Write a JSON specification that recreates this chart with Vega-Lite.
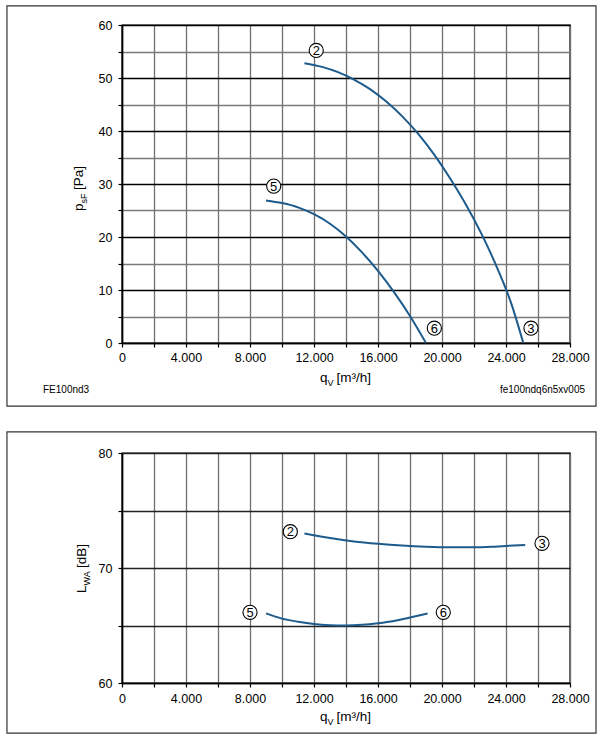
{
  "$schema": "https://vega.github.io/schema/vega-lite/v6.json",
  "padding": {"left": 5, "top": 4, "right": 0, "bottom": 0},
  "spacing": 22,
  "config": {
    "font": "Liberation Sans",
    "view": {"stroke": "#000", "strokeWidth": 1.4},
    "axis": {
      "labelFont": "Liberation Sans",
      "labelFontSize": 12.5,
      "labelColor": "#000",
      "tickColor": "#000",
      "tickSize": 4,
      "tickWidth": 1.2,
      "domainColor": "#000",
      "domainWidth": 1.6,
      "labelOverlap": false,
      "labelFlush": false,
      "tickCount": 40,
      "title": null
    },
    "text": {"font": "Liberation Sans", "color": "#000"}
  },
  "datasets": {
    "pressure": [
      {"curve": "2-3", "q": 11400, "p": 52.8},
      {"curve": "2-3", "q": 12500, "p": 52.1},
      {"curve": "2-3", "q": 13500, "p": 51.1},
      {"curve": "2-3", "q": 14500, "p": 49.7},
      {"curve": "2-3", "q": 15500, "p": 47.9},
      {"curve": "2-3", "q": 16500, "p": 45.6},
      {"curve": "2-3", "q": 17500, "p": 42.8},
      {"curve": "2-3", "q": 18500, "p": 39.5},
      {"curve": "2-3", "q": 19500, "p": 35.6},
      {"curve": "2-3", "q": 20500, "p": 31.1},
      {"curve": "2-3", "q": 21500, "p": 26.1},
      {"curve": "2-3", "q": 22500, "p": 20.4},
      {"curve": "2-3", "q": 23500, "p": 13.8},
      {"curve": "2-3", "q": 24300, "p": 7.7},
      {"curve": "2-3", "q": 25080, "p": 0},
      {"curve": "5-6", "q": 9000, "p": 26.9},
      {"curve": "5-6", "q": 10000, "p": 26.4},
      {"curve": "5-6", "q": 11000, "p": 25.6},
      {"curve": "5-6", "q": 12000, "p": 24.3},
      {"curve": "5-6", "q": 13000, "p": 22.5},
      {"curve": "5-6", "q": 14000, "p": 20.1},
      {"curve": "5-6", "q": 15000, "p": 17.1},
      {"curve": "5-6", "q": 16000, "p": 13.6},
      {"curve": "5-6", "q": 17000, "p": 9.6},
      {"curve": "5-6", "q": 18000, "p": 5.1},
      {"curve": "5-6", "q": 19000, "p": 0}
    ],
    "pressureMarkers": [
      {"label": "2", "q": 12140, "p": 55.2},
      {"label": "3", "q": 25560, "p": 2.8},
      {"label": "5", "q": 9480, "p": 29.6},
      {"label": "6", "q": 19520, "p": 2.8}
    ],
    "noise": [
      {"curve": "2-3", "q": 11400, "lw": 73.0},
      {"curve": "2-3", "q": 13000, "lw": 72.6},
      {"curve": "2-3", "q": 14500, "lw": 72.3},
      {"curve": "2-3", "q": 16000, "lw": 72.1},
      {"curve": "2-3", "q": 17500, "lw": 71.95},
      {"curve": "2-3", "q": 19000, "lw": 71.85},
      {"curve": "2-3", "q": 20500, "lw": 71.8},
      {"curve": "2-3", "q": 22000, "lw": 71.8},
      {"curve": "2-3", "q": 23500, "lw": 71.88},
      {"curve": "2-3", "q": 25200, "lw": 72.0},
      {"curve": "5-6", "q": 9000, "lw": 66.05},
      {"curve": "5-6", "q": 10000, "lw": 65.6},
      {"curve": "5-6", "q": 11000, "lw": 65.33},
      {"curve": "5-6", "q": 12000, "lw": 65.13},
      {"curve": "5-6", "q": 13000, "lw": 65.03},
      {"curve": "5-6", "q": 14000, "lw": 65.0},
      {"curve": "5-6", "q": 15000, "lw": 65.06},
      {"curve": "5-6", "q": 16000, "lw": 65.2},
      {"curve": "5-6", "q": 17000, "lw": 65.4},
      {"curve": "5-6", "q": 18000, "lw": 65.7},
      {"curve": "5-6", "q": 19100, "lw": 66.05}
    ],
    "noiseMarkers": [
      {"label": "2", "q": 10520, "lw": 73.16},
      {"label": "3", "q": 26250, "lw": 72.15},
      {"label": "5", "q": 8000, "lw": 66.15},
      {"label": "6", "q": 20080, "lw": 66.15}
    ],
    "one": [{}]
  },
  "vconcat": [
    {
      "width": 448,
      "height": 318,
      "layer": [
        {
          "data": {"name": "pressure"},
          "mark": {"type": "line", "color": "#1d5b8c", "strokeWidth": 2, "interpolate": "monotone"},
          "encoding": {
            "x": {
              "field": "q", "type": "quantitative",
              "scale": {"domain": [0, 28000], "nice": false, "zero": false},
              "axis": {
                "values": [0, 2000, 4000, 6000, 8000, 10000, 12000, 14000, 16000, 18000, 20000, 22000, 24000, 26000, 28000],
                "labelExpr": "datum.value % 4000 === 0 ? replace(format(datum.value, ','), ',', '.') : ''",
                "grid": true, "gridColor": "#6f6f6f", "gridWidth": 1.3,
                "labelPadding": 4
              }
            },
            "y": {
              "field": "p", "type": "quantitative",
              "scale": {"domain": [0, 60], "nice": false, "zero": false},
              "axis": {
                "values": [0, 5, 10, 15, 20, 25, 30, 35, 40, 45, 50, 55, 60],
                "labelExpr": "datum.value % 10 === 0 ? format(datum.value, 'd') : ''",
                "grid": true,
                "gridColor": {"condition": {"test": "datum.value % 10 === 0", "value": "#000"}, "value": "#7a7a7a"},
                "gridWidth": 1.3,
                "labelPadding": 6
              }
            },
            "detail": {"field": "curve"}
          }
        },
        {
          "data": {"name": "one"},
          "mark": {"type": "rect", "fill": null, "stroke": "#333", "strokeWidth": 1.2},
          "encoding": {
            "x": {"datum": -7190, "type": "quantitative"},
            "x2": {"datum": 29625},
            "y": {"datum": 63.6, "type": "quantitative"},
            "y2": {"datum": -11.9}
          }
        },
        {
          "data": {"name": "pressureMarkers"},
          "mark": {"type": "point", "shape": "circle", "size": 200, "filled": true, "fill": "#fff", "stroke": "#000", "strokeWidth": 1.1, "opacity": 1},
          "encoding": {
            "x": {"field": "q", "type": "quantitative"},
            "y": {"field": "p", "type": "quantitative"}
          }
        },
        {
          "data": {"name": "pressureMarkers"},
          "mark": {"type": "text", "fontSize": 13, "align": "center", "baseline": "middle", "dy": 0.5},
          "encoding": {
            "x": {"field": "q", "type": "quantitative"},
            "y": {"field": "p", "type": "quantitative"},
            "text": {"field": "label"}
          }
        },
        {
          "data": {"name": "one"},
          "mark": {"type": "text", "text": "FE100nd3", "fontSize": 10, "align": "left", "baseline": "alphabetic", "dx": -79, "dy": 50},
          "encoding": {
            "x": {"datum": 0, "type": "quantitative"},
            "y": {"datum": 0, "type": "quantitative"}
          }
        },
        {
          "data": {"name": "one"},
          "mark": {"type": "text", "text": "fe100ndq6n5xv005", "fontSize": 10, "align": "right", "baseline": "alphabetic", "dx": 15, "dy": 50},
          "encoding": {
            "x": {"datum": 28000, "type": "quantitative"},
            "y": {"datum": 0, "type": "quantitative"}
          }
        },
        {
          "data": {"name": "one"},
          "mark": {"type": "text", "text": "q", "fontSize": 13.5, "align": "left", "baseline": "alphabetic", "dx": -26, "dy": 39},
          "encoding": {
            "x": {"datum": 14000, "type": "quantitative"},
            "y": {"datum": 0, "type": "quantitative"}
          }
        },
        {
          "data": {"name": "one"},
          "mark": {"type": "text", "text": "V", "fontSize": 9, "align": "left", "baseline": "alphabetic", "dx": -18.5, "dy": 43},
          "encoding": {
            "x": {"datum": 14000, "type": "quantitative"},
            "y": {"datum": 0, "type": "quantitative"}
          }
        },
        {
          "data": {"name": "one"},
          "mark": {"type": "text", "text": "[m³/h]", "fontSize": 13.5, "align": "left", "baseline": "alphabetic", "dx": -9.5, "dy": 39},
          "encoding": {
            "x": {"datum": 14000, "type": "quantitative"},
            "y": {"datum": 0, "type": "quantitative"}
          }
        },
        {
          "data": {"name": "one"},
          "mark": {"type": "text", "text": "p", "fontSize": 13.5, "angle": 270, "align": "left", "baseline": "alphabetic", "dx": -27, "dy": -39},
          "encoding": {
            "x": {"datum": 0, "type": "quantitative"},
            "y": {"datum": 30, "type": "quantitative"}
          }
        },
        {
          "data": {"name": "one"},
          "mark": {"type": "text", "text": "sF", "fontSize": 9, "angle": 270, "align": "left", "baseline": "alphabetic", "dx": -19.5, "dy": -35.5},
          "encoding": {
            "x": {"datum": 0, "type": "quantitative"},
            "y": {"datum": 30, "type": "quantitative"}
          }
        },
        {
          "data": {"name": "one"},
          "mark": {"type": "text", "text": "[Pa]", "fontSize": 13.5, "angle": 270, "align": "left", "baseline": "alphabetic", "dx": -6, "dy": -39},
          "encoding": {
            "x": {"datum": 0, "type": "quantitative"},
            "y": {"datum": 30, "type": "quantitative"}
          }
        }
      ]
    },
    {
      "width": 448,
      "height": 230,
      "layer": [
        {
          "data": {"name": "noise"},
          "mark": {"type": "line", "color": "#1d5b8c", "strokeWidth": 2, "interpolate": "monotone"},
          "encoding": {
            "x": {
              "field": "q", "type": "quantitative",
              "scale": {"domain": [0, 28000], "nice": false, "zero": false},
              "axis": {
                "values": [0, 2000, 4000, 6000, 8000, 10000, 12000, 14000, 16000, 18000, 20000, 22000, 24000, 26000, 28000],
                "labelExpr": "datum.value % 4000 === 0 ? replace(format(datum.value, ','), ',', '.') : ''",
                "grid": true, "gridColor": "#6f6f6f", "gridWidth": 1.3,
                "labelPadding": 5
              }
            },
            "y": {
              "field": "lw", "type": "quantitative",
              "scale": {"domain": [60, 80], "nice": false, "zero": false},
              "axis": {
                "values": [60, 65, 70, 75, 80],
                "labelExpr": "datum.value % 10 === 0 ? format(datum.value, 'd') : ''",
                "grid": true, "gridColor": "#222", "gridWidth": 1.3,
                "labelPadding": 6
              }
            },
            "detail": {"field": "curve"}
          }
        },
        {
          "data": {"name": "one"},
          "mark": {"type": "rect", "fill": null, "stroke": "#333", "strokeWidth": 1.2},
          "encoding": {
            "x": {"datum": -7190, "type": "quantitative"},
            "x2": {"datum": 29625},
            "y": {"datum": 81.83, "type": "quantitative"},
            "y2": {"datum": 55.65}
          }
        },
        {
          "data": {"name": "noiseMarkers"},
          "mark": {"type": "point", "shape": "circle", "size": 200, "filled": true, "fill": "#fff", "stroke": "#000", "strokeWidth": 1.1, "opacity": 1},
          "encoding": {
            "x": {"field": "q", "type": "quantitative"},
            "y": {"field": "lw", "type": "quantitative"}
          }
        },
        {
          "data": {"name": "noiseMarkers"},
          "mark": {"type": "text", "fontSize": 13, "align": "center", "baseline": "middle", "dy": 0.5},
          "encoding": {
            "x": {"field": "q", "type": "quantitative"},
            "y": {"field": "lw", "type": "quantitative"},
            "text": {"field": "label"}
          }
        },
        {
          "data": {"name": "one"},
          "mark": {"type": "text", "text": "q", "fontSize": 13.5, "align": "left", "baseline": "alphabetic", "dx": -26, "dy": 38},
          "encoding": {
            "x": {"datum": 14000, "type": "quantitative"},
            "y": {"datum": 60, "type": "quantitative"}
          }
        },
        {
          "data": {"name": "one"},
          "mark": {"type": "text", "text": "V", "fontSize": 9, "align": "left", "baseline": "alphabetic", "dx": -18.5, "dy": 42},
          "encoding": {
            "x": {"datum": 14000, "type": "quantitative"},
            "y": {"datum": 60, "type": "quantitative"}
          }
        },
        {
          "data": {"name": "one"},
          "mark": {"type": "text", "text": "[m³/h]", "fontSize": 13.5, "align": "left", "baseline": "alphabetic", "dx": -9.5, "dy": 38},
          "encoding": {
            "x": {"datum": 14000, "type": "quantitative"},
            "y": {"datum": 60, "type": "quantitative"}
          }
        },
        {
          "data": {"name": "one"},
          "mark": {"type": "text", "text": "L", "fontSize": 13.5, "angle": 270, "align": "left", "baseline": "alphabetic", "dx": -25, "dy": -36},
          "encoding": {
            "x": {"datum": 0, "type": "quantitative"},
            "y": {"datum": 70, "type": "quantitative"}
          }
        },
        {
          "data": {"name": "one"},
          "mark": {"type": "text", "text": "WA", "fontSize": 9, "angle": 270, "align": "left", "baseline": "alphabetic", "dx": -17.5, "dy": -32.5},
          "encoding": {
            "x": {"datum": 0, "type": "quantitative"},
            "y": {"datum": 70, "type": "quantitative"}
          }
        },
        {
          "data": {"name": "one"},
          "mark": {"type": "text", "text": "[dB]", "fontSize": 13.5, "angle": 270, "align": "left", "baseline": "alphabetic", "dx": 0, "dy": -36},
          "encoding": {
            "x": {"datum": 0, "type": "quantitative"},
            "y": {"datum": 70, "type": "quantitative"}
          }
        }
      ]
    }
  ]
}
